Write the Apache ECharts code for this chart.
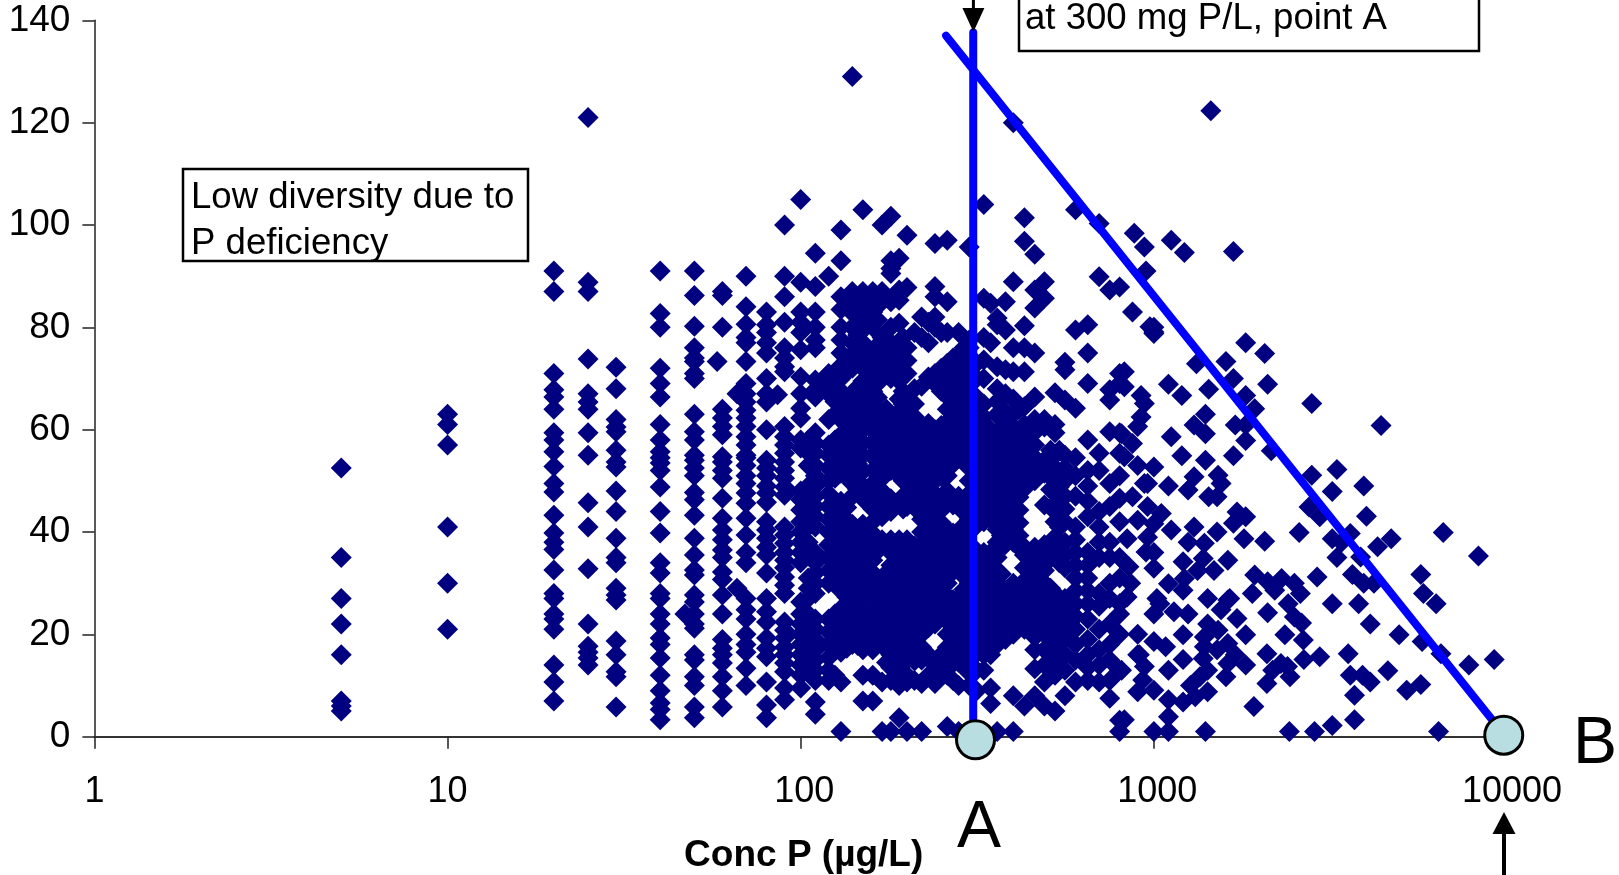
<!DOCTYPE html>
<html><head><meta charset="utf-8">
<script src="https://cdn.jsdelivr.net/npm/echarts@6/dist/echarts.min.js"></script>
<style>html,body{margin:0;padding:0;background:#fff}#c{width:1619px;height:875px}</style>
</head><body><div id="c"></div>
<script>
const xTicks = [1,10,100,1000,10000];
const yTicks = [0,20,40,60,80,100,120,140];
const columnConc = [5,10,20,25,30,40,50,60,70,80,90,100,105,110,120,125,130,135,140,145,150,160,165,170,175,180,190,195,200,210,220,230,240,250,260,270,280,290,300,315,330,345,360,370,380,400,415,430,460,490,510,525,540,560,600,650,700,750,800];
const col5=[52.5,35,27,22,16,7,6,5];
const col10=[63,61,57,41,30,21];
const col20=[91,87,71,67.8,66.4,64,59.4,58,55.7,52.8,49.5,47.8,43.3,39.8,38,36.6,32.6,28,27,24,23,21,14,10.7,7];
const col25=[121,88.8,87,73.8,67,65.4,64,59.4,55,45.7,41,32.8,22,17.7,16.5,15.4,14];
const col30=[72.2,68,62,60.5,59.6,56,53.7,52.7,48,44,38.8,35,34,29,27.7,26.7,18.7,16,12.7,11.7,5.8];
const col40=[91,82.7,80,72,69,66.4,61,58,55.7,54.5,53.5,52,48.8,44,39.8,34,32,28,27,24,22,19.3,18,15.4,12,9,6.6,5.3,3.3];
const col50=[91,86.2,80.2,76,74,73.3,71,70,63,59.6,58,55,54,52.5,51,47.7,46.3,43.3,38.8,35.5,32.6,31.6,27.7,26.3,24,22,21.2,16,15,11.7,10,5.8,3.7];
const col60=[87,86.2,80,64,62.3,60.6,59,54.7,53.7,52,50.5,46.6,42.7,40.4,38.5,36.5,35,32.2,30.7,27.7,24,19,17.3,16,14.4,11.7,9,5.8];
const col70=[90,84,80.6,78,77,73.3,69,67,65.4,63.8,62.3,60.6,58.6,57,55,54.5,53,51,49.5,47.6,45.6,42.7,39.4,36,34,27,24.8,23,20,18,16.5,13.4,10];
const col80=[83,80.5,79,77,75,70,67,65.4,60,54,52.5,51,49,47.6,45.8,42,40.4,38.8,37,35.5,32,27,24.4,22.4,19.3,17.3,15.6,10.7,6.2,3.7];
const col90=[100,90,86,81,76,74,72.3,71.3,60.6,58.6,57,55.4,53.7,52,50.5,48.8,47.2,41,39.4,37.8,36,34.5,33,31.2,29.6,28,22.4,20.8,19.3,17.5,16,14.4,12.7,9.5,7.2];
const col100=[105,88.8,83,81,79,75.6,70.3,67,64.2,62.3,58,56.4,48,46.3,44.3,42,40,38,36,34,26.3,24,22,20,18,16,14,12,9.5];
const col105=[58,55.5,53,49,47,45,43,41,38,36,31,29,27,24,22,20,18,16,14];
const col110=[94.5,88,83,80,77.5,76,69.7,67.8,66.4,59.4,57.4,55.4,53,51,49,47,45,43,41,36,34,32,30,28,23,21,19,17,15,13,11,6.8,4.4];
const col120=[90,71,69,67,62,57,55,52.5,50,47.5,45,42.5,40,37.5,35,32.5,30,23,20.5,18,15.5,13,11];
const col125=[68,65.5,63,58,55.5,53,50.5,45.5,43,40.5,38,35.5,33,30.5,24,21.5,19,16.8,12];
const col130=[99,93,86,83.5,80,77.5,75,72.5,70,67.5,65,62,59,56.5,54,51.5,46,43.5,41,38.5,36,33.5,31,28.5,25,22,19,16.5,10.7,1];
const col135=[73.8,71.2,66,63.5,60.8,58.3,55.8,53.3,50.8,44.8,42.3,39.8,37.3,34.8,32.3,29.8,27.3,24.8,22.3,19.8,17.3];
const col140=[129,87,85,82.8,80,77,74.5,72,67,64.5,62,59.5,57,54.5,52,49.5,47,41.5,39,36.5,33,30.5,28,25.5,23,20.5,18];
const col145=[83.5,81,78.5,75.8,73.3,68.3,65.8,63.3,60.8,58.3,55.8,53.3,50.8,48.3,39.8,37.3,34.8,32.3,29.8,27.3,24.8,22.3,19.8,17.8];
const col150=[103,87,85,82,79.5,77,74.5,72,69.5,67,64.5,62,60,57.5,55,52,49,46.5,41.5,39,36.5,34,31.5,29,26.5,24,21.5,19,17,12,7];
const col160=[87,85,83,80,75,72.5,70,67.5,65,62.5,60,57.5,55,52,49.5,47,44.5,42,39.5,37,34.5,32,29.5,27,24.5,22,19.5,17,12,7];
const col165=[86,81.5,76.5,74,71.5,69,66.3,63.8,61.3,58.8,56.3,53.8,51.3,48.8,46.3,43.8,38.8,36.3,31,28.8,26.3,23.8,21.3,18.8];
const col170=[100,87,85,78,75.5,73,70.5,63,60.5,58,55.5,53,50.5,48,45.5,43,38.5,30.5,28,25.5,23,20.5,18,10.7,1];
const col175=[76,73.5,71,64,61.5,59,56.5,54,51.5,46.5,44,37,32,29.5,27,24.5,22,19.5,17,14.5];
const col180=[101.7,93,91.5,90.5,85,80,77,74.5,72,70,62.5,60,57.5,55,52,46.5,44,38.5,36,33.5,31,28.5,26,23.5,21,18.5,16,13.5,11,1];
const col190=[93.5,87.3,85.3,80.8,77,74.5,72,69.5,66,63.5,61,58.5,56,53.5,51,45.5,38.5,36,33.5,31,28.5,26,23.5,21,18.5,16,13.5,10,3.7];
const col195=[78,75.5,73,67.5,65,62.5,60,57.5,55,52.5,50,47,44.5,37,34.5,32,29.5,27,24.5,22,19.5,17,14.5,12];
const col200=[98,87.8,76,73.5,71,66,63.5,61,58.5,56,53.5,50,47.5,45,38.5,36,33.5,31,28.5,26,23.5,21,18.5,15,12,10.7,1];
const col210=[79,68,65,62.5,60,57.5,55,52.3,49.8,47.3,44.8,37.3,34.8,32.3,29.8,27.3,24.8,22.3,19.8,17.3,14.8,11];
const col220=[82,78,68.5,60,57.5,55,52.5,50,47.5,45,42.5,40,37.5,35,32.5,30,27.5,25,22.5,20,17.5,15,10.4,1];
const col230=[81,77,70.3,61.2,58.8,56.3,53.8,51.3,48.8,46.3,43.8,41.3,38.8,36.3,33.8,31.3,28.8,26.3,23.8,21.3,16,12];
const col240=[96.4,88,86,82,80,71,69,60,57.5,55,52.5,50,47.5,45,42.5,40,37.5,35,32.5,30,27.5,25,22,14,10.4];
const col250=[79,72,70,67.5,60.8,58.3,55.8,53.3,50.8,46.8,44.3,41.8,39.3,36.8,34.3,31.8,29.3,26.8,24.3,16,12.5];
const col260=[97,85,79,73,71,69,66.5,64,61.5,59,56.5,54,51,48,45.5,40.5,38,35.5,33,30,27.5,25,22.5,20,17.5,15,12,2];
const col270=[74,71.5,69,66.8,64.3,61.8,59.3,56.8,53.3,45.3,39.8,37.3,34.8,32.3,26.8,24.3,21.8,19.3,16.8,14.3,11];
const col280=[79,74.6,71,68,65.5,63,60.5,58,55,47,38.5,36,33.5,27,24.5,22,19.5,17,14.5,10,1];
const col290=[76,72,69,66.3,63.8,61.3,58.8,56.3,53.8,46.3,43.8,41.3,38.8,36.3,33.8,31.3,28.8,26.3,23.8,21.3,18.8,16.3,13.8];
const col300=[95.7,77.5,76,73,70.5,67,65,62.5,60,57.5,55,52.5,50,47.5,45,42.5,40,37.5,35,32.5,30,27.5,25,22.5,20,17.5,15,12.5,10];
const col315=[73,70,66.3,63.8,61.3,58.8,56.3,53.8,51.3,48.8,46.3,43.8,41.3,36.3,33.8,31.3,28.8,26.3,23.8,21.3,18.8,16.3,13,9];
const col330=[104,85.7,78,73.6,70,65,62.5,60,57.5,55,52.5,50,47.5,45,42,36,33.5,31,28.5,26,23.5,21,18.5,16,13,1];
const col345=[84.7,77,60,57.5,55,52.5,50,47.5,45,42.5,36,33.5,31,28.5,26,23.5,21,18.5,16,9.5,6.5];
const col360=[81.8,80.5,72.3,68,65.5,63,58,55.5,53,50.5,48,45.5,43,40.5,38,35,32.5,30,27.5,25,22.5,20,18,1];
const col370=[66,62,59.3,56.8,54.3,51.8,49.3,46.8,44.3,41.8,39.3,36.8,31.8,29.3,26.8,24.3,21.8];
const col380=[85,79.5,71.7,67,63.5,61,58,55.5,53,50.5,48,45.5,43,40.5,38,28.5,26,23.5,21,19];
const col400=[120,88.9,76,71.3,66,63,60.5,58,55.5,53,50.5,48,46,43,40.5,38,30,27.5,25,22.5,20,8,1];
const col415=[64,59.3,56.8,54.3,51.8,49.3,46.8,44.3,41.8,39.3,37,29,26.8,24.3,21.8];
const col430=[101.4,96.8,80.3,76,71.3,64.5,61,58.5,56,53.5,51,48.5,37,35.5,33,30.5,28,25.5,23,21,6];
const col460=[94.3,87.3,83.8,75,66.4,62,59.5,57,54.5,52,50,37,34.5,32,29.5,27,24.5,22,19.5,17,13.3,8];
const col490=[88.9,85.7,60.5,62,54,51.5,45.3,37.5,35,32.5,30,27.5,25,22.5,20,17,14,10.7,6];
const col510=[56,53.3,50.8,48.3,37.8,34.8,29,26.8,24.3,21.8,19.3,16,13];
const col525=[67.2,61,59.4,55,52.5,50,47.5,44,42,39,36,28,25.5,23,20.5,17.5,14,12,5];
const col540=[56,51.3,48.8,46.3,43.8,41,37,34,26,23.5,21,18,15];
const col560=[73.2,71.7,65.8,55,52.5,50,47,44.5,42,38,35.5,33,27,24.5,22,19.5,16,13,8];
const col600=[103,79.5,64.2,54.5,51,47,41,38.5,36,33.5,31,28.5,26,23.5,21,18,15,10.7];
const col650=[80.5,75,69,58,52,49,46,43,36,33.5,31,28.5,26,23,19,16,13.5,11];
const col700=[100.3,89.9,55.4,52,44,41,38,35,28,25.5,21,17,14,10.7];
const col750=[87.3,67.8,65.8,59.6,49.5,45,38,35,30,27,22,18,15,11,7.5];
const col800=[87.9,71,69,59.4,55.4,51,46.6,42,35,31,26,24,20,13,3.2,1];
const columnDiversity = [col5,col10,col20,col25,col30,col40,col50,col60,col70,col80,col90,col100,col105,col110,col120,col125,col130,col135,col140,col145,col150,col160,col165,col170,col175,col180,col190,col195,col200,col210,col220,col230,col240,col250,col260,col270,col280,col290,col300,col315,col330,col345,col360,col370,col380,col400,col415,col430,col460,col490,col510,col525,col540,col560,col600,col650,col700,col750,col800];
const sparsePoints = [[47,24],[58,73.3],[66,29],[66,67],[86,66.8],[825,71.3],[825,68.4],[920,66.7],[940,65.1],[920,62.5],[900,60.6],[810,59.2],[870,57.3],[825,54.7],[1000,79.1],[975,80.1],[870,83],[1000,80],[1000,78.8],[950,91],[880,98.4],[940,95.7],[1120,97],[1220,94.6],[1680,94.8],[1450,122.3],[1820,77],[2060,74.9],[1600,73.3],[1320,72.9],[1680,70],[2100,68.9],[1820,66.7],[1430,67.9],[1930,64.1],[1100,68.9],[1200,66.7],[2800,65.1],[4400,60.8],[1400,63],[1300,60.9],[1400,59.2],[1700,60.9],[1820,60.9],[1820,57.9],[1120,58.6],[1200,54.9],[1680,54.9],[2150,55.9],[1000,52.7],[940,49.5],[870,46.9],[1100,49],[1250,48.2],[1300,50.8],[1400,54],[1520,51.1],[1430,46.9],[1510,46.9],[1550,49.5],[1720,43.9],[1820,43],[1680,41.7],[1800,38.7],[2060,38.2],[2580,39.9],[2800,51.1],[3300,52.2],[3930,49],[3200,47.9],[2750,44.9],[2950,43],[4000,43.1],[3600,39.7],[3200,38.7],[3400,38],[4700,38.7],[4300,37.1],[6600,39.9],[3300,35],[3850,35.1],[3650,31.7],[3930,30],[4200,30],[5700,31.7],[5800,28],[2900,31.2],[3200,26],[3800,26],[6300,26],[8300,35.3],[1050,43.6],[1000,41.6],[960,39],[950,36.1],[1120,40.4],[1300,41],[1510,40],[1250,38],[1390,37.8],[1380,34.8],[1620,34.5],[1210,34.2],[1000,32.9],[1480,32.5],[1330,32.5],[1220,30.9],[1100,29.9],[1210,28.6],[1420,27],[1620,26.7],[1020,27],[850,33.2],[860,30],[840,27.3],[840,38.7],[1930,31.6],[2100,30.3],[2300,30.9],[2500,30],[1900,28],[2200,28.6],[2600,28],[2400,26],[2100,24.2],[2500,23.4],[2620,22.2],[2350,19.9],[2650,18.9],[1820,19.9],[4100,22],[4950,19.9],[5750,18.6],[6500,16.2],[7800,14],[9200,15.1],[3550,16.2],[2950,15.6],[2660,15.1],[2090,16.2],[1820,14],[2390,13.7],[2290,14.3],[2170,13],[2090,10.4],[2430,11.7],[3600,12],[3900,12],[4100,10.7],[4600,12.9],[5200,9.1],[5700,10.2],[3700,8.1],[1920,5.9],[3700,3.3],[3200,2.2],[2850,1],[2420,1],[6400,1],[1400,1],[1100,1],[1000,1],[1100,3.9],[825,3.3],[1040,26],[1140,24.4],[1250,24],[1210,19.9],[1080,17.6],[1000,18.6],[910,16],[940,13.7],[930,11.1],[900,8.8],[1000,9.1],[1100,7.2],[1210,6.8],[1310,7.8],[1420,8.8],[1270,10],[1350,11.7],[1420,13],[1380,15.3],[1210,15.1],[1100,13],[1420,22],[1520,20.8],[1390,19.5],[1390,17.6],[1510,17],[1620,18.2],[1700,16],[1620,14.3],[1600,11.7],[1640,27],[1550,24.8],[1720,23.1],[810,13],[900,53],[960,49.5],[960,45],[900,42.3],[1000,36],[1000,24],[900,20],[900,16]];
const limitLineA = [[308,137.6],[308,3]];
const limitLineB = [[258,137],[9700,0.8]];
const pointA = [[312.6,-0.6]];
const pointB = [[9790,0.3]];

const scatterData = [];
columnConc.forEach(function(c,i){ columnDiversity[i].forEach(function(v){ scatterData.push([c,v]); }); });
sparsePoints.forEach(function(p){ scatterData.push(p); });

const FONT = '"Liberation Sans",Arial,sans-serif';
const chart = echarts.init(document.getElementById('c'));
chart.setOption({
  animation:false,
  grid:{left:94.4,top:20.3,width:1412.6,height:716.4,containLabel:false,outerBoundsMode:'none'},
  xAxis:{type:'log',logBase:10,min:xTicks[0],max:xTicks[4],
    name:'Conc P (µg/L)',nameLocation:'center',nameGap:101,
    nameTextStyle:{fontFamily:FONT,fontSize:37,fontWeight:'bold',color:'#000',padding:[0,0,0,6]},
    axisLine:{show:true,onZero:false,lineStyle:{color:'#333',width:2}},
    axisTick:{show:true,length:12,lineStyle:{color:'#222',width:1.5}},
    minorTick:{show:false},splitLine:{show:false},minorSplitLine:{show:false},
    axisLabel:{fontFamily:FONT,fontSize:36,color:'#000',margin:37,
      formatter:function(v){return v===10000?'{c|'+v+'}':(v>=100?'{b|'+v+'}':'{a|'+v+'}');},
      rich:{a:{fontFamily:FONT,fontSize:36,color:'#000'},
            b:{fontFamily:FONT,fontSize:36,color:'#000',padding:[0,0,0,7]},
            c:{fontFamily:FONT,fontSize:36,color:'#000',padding:[0,0,0,10]}}}},
  yAxis:{type:'value',min:yTicks[0],max:yTicks[7],interval:20,
    axisLine:{show:true,onZero:false,lineStyle:{color:'#222',width:1.5}},
    axisTick:{show:true,length:12,lineStyle:{color:'#222',width:1.5}},
    splitLine:{show:false},
    axisLabel:{fontFamily:FONT,fontSize:37,color:'#000',margin:24}},
  series:[
    {type:'scatter',data:scatterData,symbol:'diamond',symbolSize:21,clip:false,z:3,large:false,
      itemStyle:{color:'#000080',opacity:1},silent:true},
    {type:'line',data:limitLineA,showSymbol:false,symbol:'none',clip:false,z:5,silent:true,
      lineStyle:{color:'#0000FF',width:8,cap:'round'}},
    {type:'line',data:limitLineB,showSymbol:false,symbol:'none',clip:false,z:5,silent:true,
      lineStyle:{color:'#0000FF',width:8,cap:'round'}},
    {type:'scatter',data:pointA.concat(pointB),symbol:'circle',symbolSize:38,clip:false,z:6,silent:true,
      itemStyle:{color:'#B8DEE1',borderColor:'#000',borderWidth:3,opacity:1}}
  ],
  graphic:[
    {type:'rect',z:10,shape:{x:183,y:169,width:345,height:92},style:{fill:'#fff',stroke:'#000',lineWidth:2.5}},
    {type:'text',z:11,x:191,y:179,style:{text:'Low diversity due to',font:'36.6px '+FONT,fill:'#000'}},
    {type:'text',z:11,x:191,y:225,style:{text:'P deficiency',font:'36.6px '+FONT,fill:'#000'}},
    {type:'rect',z:10,shape:{x:1019,y:-20,width:460,height:71},style:{fill:'#fff',stroke:'#000',lineWidth:2.5}},
    {type:'text',z:11,x:1025,y:0,style:{text:'at 300 mg P/L, point A',font:'36.6px '+FONT,fill:'#000'}},
    {type:'polygon',z:9,shape:{points:[[962.4,8],[984.4,8],[973.4,32]]},style:{fill:'#000'}},
    {type:'rect',z:9,shape:{x:971.9,y:0,width:3,height:10},style:{fill:'#000'}},
    {type:'polygon',z:9,shape:{points:[[1492.5,834],[1515.5,834],[1504,812]]},style:{fill:'#000'}},
    {type:'rect',z:9,shape:{x:1502,y:832,width:4,height:43},style:{fill:'#000'}},
    {type:'text',z:11,x:957,y:796,style:{text:'A',font:'66px '+FONT,fill:'#000'}},
    {type:'text',z:11,x:1573,y:712,style:{text:'B',font:'66px '+FONT,fill:'#000'}}
  ]
});
</script></body></html>
